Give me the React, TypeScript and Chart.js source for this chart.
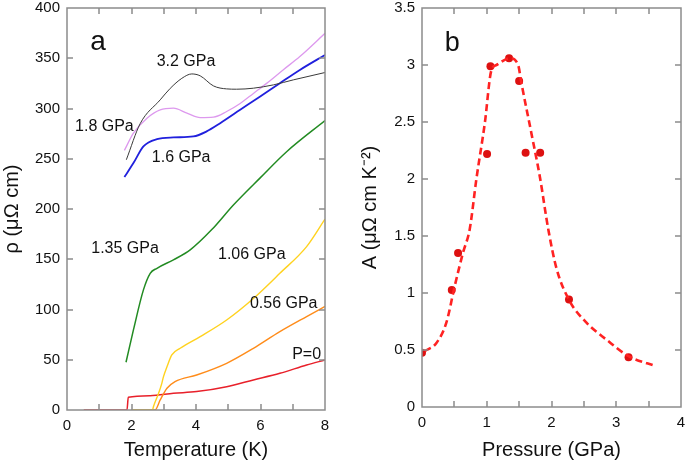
import React, { useEffect, useRef } from "react";
import { Chart, registerables } from "chart.js";
Chart.register(...registerables);

const FONT = "'Liberation Sans', Arial, Helvetica, sans-serif";

// ---- Panel a: resistivity vs temperature ----
const tP0 = [0.52, 1.86, 1.9, 2.58, 3.3, 4.02, 4.95, 5.78, 6.6, 7.43, 8.0];
const rP0 = [0, 0, 12.6, 14.3, 16.6, 18.3, 23.2, 29.9, 36.5, 44.8, 49.8];

const tP056 = [2.0, 2.73, 2.89, 3.1, 3.35, 4.02, 4.95, 5.78, 6.6, 7.43, 8.0];
const rP056 = [0, 0, 10, 21.6, 28.2, 34.8, 46.5, 61.4, 78, 93, 103];

const tP106 = [2.0, 2.65, 2.68, 2.84, 2.94, 2.99, 3.1, 3.25, 3.51, 4.13, 4.95, 5.78, 6.6, 7.43, 8.0];
const rP106 = [0, 0, 3.3, 16.6, 26.5, 33, 43, 54.8, 61.4, 73, 89.6, 111, 136, 162.6, 190];

const tP135 = [1.83, 2.06, 2.37, 2.58, 2.79, 3.3, 3.82, 4.49, 5.16, 5.99, 6.81, 8.0];
const rP135 = [47.5, 79.7, 119.5, 136, 141, 149.4, 159.3, 179.5, 204, 231, 257, 288];

const tP16 = [1.78, 2.06, 2.37, 2.79, 3.3, 3.92, 4.33, 4.75, 5.37, 5.99, 6.6, 7.22, 8.0];
const rP16 = [231.8, 245.7, 262.3, 269.5, 271.2, 272.2, 277.2, 285.4, 298.7, 312, 325.2, 338.4, 353.3];

const tP18 = [1.78, 2.06, 2.48, 2.89, 3.3, 3.72, 4.13, 4.54, 4.95, 5.37, 5.78, 6.19, 6.7, 7.22, 8.0];
const rP18 = [258.3, 275.5, 290.4, 298.7, 300.3, 295.4, 291, 291.4, 297, 305, 315, 325, 338.4, 351.7, 374.8];

const tP32 = [1.84, 2.27, 2.89, 3.2, 3.56, 3.87, 4.13, 4.54, 4.95, 5.26, 5.78, 6.4, 7.02, 8.0];
const rP32 = [249, 285, 308.6, 320, 330, 334.4, 332.5, 322.5, 319.5, 319.2, 320.2, 323.5, 328.5, 335.8];

const curveLabels = ["3.2 GPa", "1.8 GPa", "1.6 GPa", "1.35 GPa", "1.06 GPa", "0.56 GPa", "P=0"];
const curveLabelT = [3.69, 1.16, 3.54, 1.8, 5.73, 6.72, 7.43];
const curveLabelR = [347, 281.6, 250.7, 161, 155, 105.5, 54.7];

// ---- Panel b: A coefficient vs pressure ----
const pressureMeas = [0, 0.46, 0.557, 1.005, 1.057, 1.345, 1.5, 1.6, 1.825, 2.27, 3.19];
const aMeas = [0.475, 1.026, 1.35, 2.22, 2.99, 3.06, 2.86, 2.23, 2.23, 0.944, 0.437];

const pressureFit = [0.04, 0.22, 0.376, 0.505, 0.634, 0.737, 0.84, 0.97, 1.07, 1.15, 1.356, 1.485, 1.536, 1.69, 1.82, 1.95, 2.08, 2.28, 2.54, 2.85, 3.19, 3.62];
const aFit = [0.49, 0.56, 0.74, 1.06, 1.355, 1.56, 2.0, 2.49, 2.95, 3.0, 3.06, 3.0, 2.84, 2.4, 2.02, 1.56, 1.21, 0.93, 0.74, 0.59, 0.446, 0.358];

const zip = (xs: number[], ys: number[]) => xs.map((x, i) => ({ x, y: ys[i] }));

const framePlugin = {
  id: "frame",
  afterDraw(chart: any, _args: any, opts: any) {
    const { ctx, chartArea: a, scales } = chart;
    const xs = scales.x;
    const ys = scales.y;
    ctx.save();
    ctx.strokeStyle = "#8c8c8c";
    ctx.lineWidth = 1.5;
    const L = 6;
    ctx.beginPath();
    xs.ticks.forEach((t: any) => {
      const px = Math.round(xs.getPixelForValue(t.value));
      if (px <= a.left + 1 || px >= a.right - 1) return;
      ctx.moveTo(px, a.bottom);
      ctx.lineTo(px, a.bottom - L);
      ctx.moveTo(px, a.top);
      ctx.lineTo(px, a.top + L);
    });
    ys.ticks.forEach((t: any) => {
      const py = Math.round(ys.getPixelForValue(t.value));
      if (py <= a.top + 1 || py >= a.bottom - 1) return;
      ctx.moveTo(a.left, py);
      ctx.lineTo(a.left + L, py);
      ctx.moveTo(a.right, py);
      ctx.lineTo(a.right - L, py);
    });
    ctx.stroke();
    ctx.strokeRect(a.left, a.top, a.right - a.left, a.bottom - a.top);
    (opts.labels || []).forEach((it: any) => {
      ctx.font = it.font;
      ctx.fillStyle = "#111";
      ctx.textAlign = it.align || "center";
      ctx.textBaseline = it.baseline || "middle";
      ctx.fillText(it.text, xs.getPixelForValue(it.x), ys.getPixelForValue(it.y));
    });
    ctx.restore();
  },
};

const tickFont = { family: FONT, size: 15 };
const titleFont = { family: FONT, size: 20 };
const noGrid = { display: false, drawTicks: false, tickLength: 0 };

function line(data: { x: number; y: number }[], color: string, width: number) {
  return {
    data,
    borderColor: color,
    backgroundColor: color,
    borderWidth: width,
    pointRadius: 0,
    cubicInterpolationMode: "monotone" as const,
    fill: false,
  };
}

const fitX = (h: number) => (s: any) => {
  s.height = h;
  s.paddingLeft = 0;
  s.paddingRight = 0;
};
const fitY = (w: number) => (s: any) => {
  s.width = w;
  s.paddingTop = 0;
  s.paddingBottom = 0;
};

function PanelA() {
  const ref = useRef<HTMLCanvasElement>(null);
  useEffect(() => {
    const labels: any[] = curveLabels.map((text, i) => ({
      text,
      x: curveLabelT[i],
      y: curveLabelR[i],
      font: `16px ${FONT}`,
    }));
    labels.push({ text: "a", x: 0.72, y: 358, font: `28px ${FONT}`, align: "left", baseline: "alphabetic" });
    const chart = new Chart(ref.current!, {
      type: "line",
      data: {
        datasets: [
          line(zip(tP32, rP32), "#3a3a3a", 1),
          line(zip(tP18, rP18), "#dd99ee", 1.3),
          line(zip(tP16, rP16), "#2020dd", 1.8),
          line(zip(tP135, rP135), "#228b22", 1.5),
          line(zip(tP106, rP106), "#ffd21f", 1.4),
          line(zip(tP056, rP056), "#ff8c1a", 1.4),
          line(zip(tP0, rP0), "#e8202a", 1.5),
        ] as any,
      },
      options: {
        responsive: false,
        animation: false,
        devicePixelRatio: 1,
        layout: { padding: { top: 8, right: 15, left: 0, bottom: 0 } },
        plugins: { legend: { display: false }, tooltip: { enabled: false }, frame: { labels } } as any,
        scales: {
          x: {
            type: "linear",
            min: 0,
            max: 8,
            grid: noGrid,
            border: { display: false },
            ticks: {
              stepSize: 1,
              font: tickFont,
              color: "#111",
              padding: 7,
              maxRotation: 0,
              callback: (v: any) => (Number(v) % 2 === 0 ? String(v) : ""),
            },
            title: { display: true, text: "Temperature (K)", font: titleFont, color: "#111", padding: { top: 0, bottom: 0 } },
            afterFit: fitX(52),
          },
          y: {
            type: "linear",
            min: 0,
            max: 400,
            grid: noGrid,
            border: { display: false },
            ticks: { stepSize: 50, font: tickFont, color: "#111", padding: 7 },
            title: { display: true, text: "ρ (μΩ cm)", font: titleFont, color: "#111", padding: { top: 0, bottom: 0 } },
            afterFit: fitY(67),
          },
        },
      } as any,
      plugins: [framePlugin],
    });
    return () => chart.destroy();
  }, []);
  return <canvas ref={ref} width={340} height={462} style={{ position: "absolute", left: 0, top: 0, width: 340, height: 462 }} />;
}

function PanelB() {
  const ref = useRef<HTMLCanvasElement>(null);
  useEffect(() => {
    const labels = [{ text: "b", x: 0.35, y: 3.12, font: `27px ${FONT}`, align: "left", baseline: "alphabetic" }];
    const chart = new Chart(ref.current!, {
      type: "line",
      data: {
        datasets: [
          {
            data: zip(pressureFit, aFit),
            borderColor: "#ff2222",
            borderWidth: 2.6,
            borderDash: [7, 4],
            pointRadius: 0,
            cubicInterpolationMode: "monotone",
            fill: false,
          },
          {
            data: zip(pressureMeas, aMeas),
            showLine: false,
            pointRadius: 4,
            pointBackgroundColor: "#dd1111",
            pointBorderColor: "#dd1111",
            pointBorderWidth: 0,
          },
        ] as any,
      },
      options: {
        responsive: false,
        animation: false,
        devicePixelRatio: 1,
        layout: { padding: { top: 8, right: 4, left: 0, bottom: 0 } },
        plugins: { legend: { display: false }, tooltip: { enabled: false }, frame: { labels } } as any,
        scales: {
          x: {
            type: "linear",
            min: 0,
            max: 4,
            grid: noGrid,
            border: { display: false },
            ticks: {
              stepSize: 0.5,
              font: tickFont,
              color: "#111",
              padding: 7,
              maxRotation: 0,
              callback: (v: any) => (Number.isInteger(Number(v)) ? String(Number(v)) : ""),
            },
            title: { display: true, text: "Pressure (GPa)", font: titleFont, color: "#111", padding: { top: 0, bottom: 0 } },
            afterFit: fitX(55),
          },
          y: {
            type: "linear",
            min: 0,
            max: 3.5,
            grid: noGrid,
            border: { display: false },
            ticks: {
              stepSize: 0.5,
              font: tickFont,
              color: "#111",
              padding: 7,
              callback: (v: any) => String(Number(v)),
            },
            title: { display: true, text: "A (μΩ cm K⁻²)", font: titleFont, color: "#111", padding: { top: 18, bottom: 0 } },
            afterFit: fitY(82),
          },
        },
      } as any,
      plugins: [framePlugin],
    });
    return () => chart.destroy();
  }, []);
  return <canvas ref={ref} width={345} height={462} style={{ position: "absolute", left: 340, top: 0, width: 345, height: 462 }} />;
}

export default function App() {
  return (
    <div style={{ position: "absolute", left: 0, top: 0, width: 685, height: 462, background: "#fff", overflow: "hidden" }}>
      <PanelA />
      <PanelB />
    </div>
  );
}
